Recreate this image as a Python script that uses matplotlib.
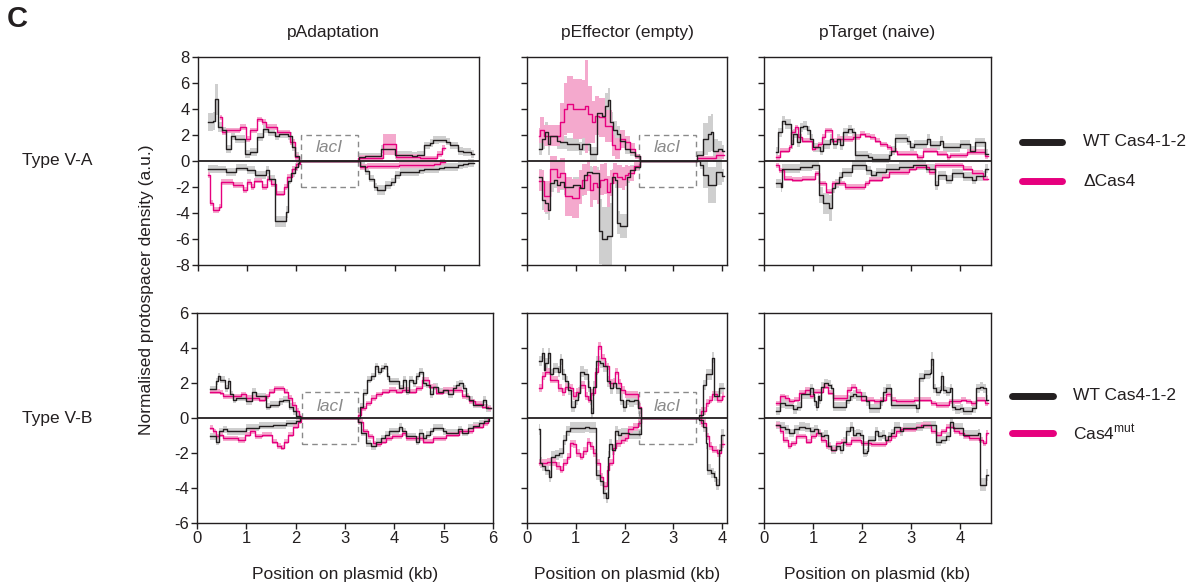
import matplotlib
matplotlib.use("Agg")
import matplotlib.pyplot as plt
from matplotlib.lines import Line2D
from matplotlib.patches import Rectangle
import numpy as np

plt.rcParams["font.family"] = ["Liberation Sans", "DejaVu Sans"]
plt.rcParams["mathtext.fontset"] = "custom"
plt.rcParams["mathtext.rm"] = "Liberation Sans"
plt.rcParams["axes.unicode_minus"] = False

# ---- data: (position kb, density[, band half-width]) step breakpoints ----
# Type V-A, pAdaptation
adapt_va_wt_pos = [(0.2, 3.0, 0.7), (0.3, 3.1, 0.7), (0.34, 4.75, 1.2), (0.41, 2.6, 0.4), (0.48, 2.35), (0.58, 0.95),
                   (0.68, 1.95), (0.75, 1.7), (0.95, 0.55), (1.06, 0.7), (1.2, 1.85), (1.33, 2.45), (1.43, 2.2),
                   (1.57, 1.95), (1.64, 2.05), (1.84, 1.9), (1.91, 1.05), (1.98, 0.4), (2.05, 0), (3.28, 0.3),
                   (3.4, 0.35), (3.72, 0.9), (4.0, 0.45), (4.2, 0.5), (4.35, 0.4), (4.45, 0.45), (4.61, 1.2),
                   (4.72, 1.4), (4.78, 1.6), (4.9, 1.65), (5.05, 1.5), (5.12, 1.2), (5.3, 0.8), (5.4, 0.7),
                   (5.55, 0.55), (5.62, 0.55)]
adapt_va_mut_pos = [(0.44, 3.35), (0.48, 2.2), (0.58, 2.35), (0.85, 2.6), (0.97, 1.7), (1.06, 2.35), (1.2, 3.2),
                    (1.3, 3.0), (1.38, 2.6), (1.6, 2.2), (1.88, 1.45), (1.98, 0.3), (2.06, 0), (3.26, 0.25),
                    (3.76, 1.3, 0.8), (4.04, 0.3), (4.52, 0.2), (4.86, 0.55), (4.96, 1.0), (5.02, 1.0)]
adapt_va_wt_neg = [(0.2, -0.6), (0.41, -0.65), (0.58, -0.85), (0.78, -0.5), (1.0, -0.7), (1.16, -1.1), (1.38, -0.7),
                   (1.45, -1.35), (1.56, -4.65, 0.45), (1.8, -3.9, 0.45), (1.84, -1.5), (1.9, -0.95), (1.97, -0.45),
                   (2.03, -0.15), (2.06, 0), (3.3, -0.35), (3.4, -0.8), (3.48, -1.35), (3.58, -2.0), (3.65, -2.25, 0.4),
                   (3.8, -1.85), (3.92, -1.6), (4.02, -1.1), (4.12, -0.85), (4.5, -0.7), (4.6, -0.6), (4.9, -0.5),
                   (5.0, -0.45), (5.3, -0.3), (5.4, -0.2), (5.5, -0.15), (5.62, -0.12)]
adapt_va_mut_neg = [(0.2, -1.1), (0.24, -3.25), (0.3, -3.75), (0.43, -3.5), (0.47, -1.6), (0.72, -1.85),
                    (0.92, -2.25), (1.0, -1.6), (1.08, -2.0), (1.15, -1.5), (1.3, -2.0), (1.4, -1.35), (1.48, -1.75),
                    (1.58, -2.5), (1.75, -2.0), (1.82, -1.2), (1.92, -0.6), (2.0, -0.25), (2.07, 0), (3.3, -0.45),
                    (3.45, -0.4), (4.1, -0.33), (4.8, -0.2), (4.92, -0.1), (5.02, -0.07)]

# Type V-A, pEffector (empty)
effector_va_wt_pos = [(0.24, 0.95, 0.5), (0.3, 1.7, 0.8), (0.37, 2.2, 0.8), (0.44, 1.3, 0.8), (0.48, 1.95, 0.7),
                      (0.61, 1.55, 0.6), (0.68, 1.45, 0.5), (0.82, 1.3, 0.5), (1.06, 0.95, 0.5), (1.12, 1.3, 0.5),
                      (1.3, 0.55, 0.5), (1.43, 3.7, 1.0), (1.53, 3.45, 1.0), (1.6, 4.2, 1.0), (1.67, 4.7, 0.9),
                      (1.7, 3.0, 0.8), (1.77, 2.35, 0.7), (1.84, 2.1, 0.6), (1.91, 1.55, 0.5), (2.01, 0.95, 0.4),
                      (2.11, 0.7, 0.3), (2.22, 0.35, 0.2), (2.32, 0, 0), (3.49, 0.45, 0.3), (3.61, 1.7, 1.2),
                      (3.71, 2.1, 1.4), (3.78, 2.2, 1.4), (3.82, 0.8, 0.9), (3.92, 0.95, 0.6), (3.99, 0.8, 0.4),
                      (4.04, 0.8, 0.4)]
effector_va_mut_pos = [(0.24, 1.95, 0.6), (0.27, 2.35, 1.0), (0.34, 1.95, 0.8), (0.68, 3.0, 1.5), (0.75, 4.0, 2.0),
                       (0.82, 4.35, 2.2), (0.95, 4.0, 2.3), (1.12, 4.0, 2.2), (1.19, 4.2, 3.6), (1.26, 3.6, 2.2),
                       (1.33, 3.0, 1.6), (1.4, 3.5, 1.5), (1.47, 3.35, 1.5), (1.6, 2.7, 1.2), (1.74, 1.2, 0.8),
                       (1.81, 0.95, 0.8), (1.91, 1.7, 0.7), (2.01, 1.45, 0.5), (2.11, 0.95, 0.4), (2.22, 0.35, 0.2),
                       (2.32, 0, 0), (3.49, 0.2, 0.2), (3.88, 0.45, 0.3), (4.04, 0.45, 0.3)]
effector_va_wt_neg = [(0.24, -1.2, 0.6), (0.3, -3.0, 0.8), (0.37, -3.25, 0.8), (0.44, -3.75, 0.8), (0.48, -1.7, 0.7),
                      (0.55, -1.45, 0.6), (0.61, -1.85, 0.6), (0.68, -1.6, 0.6), (0.75, -2.0, 0.6), (0.95, -1.85, 0.6),
                      (1.09, -2.1, 0.6), (1.16, -1.1, 0.5), (1.23, -0.85, 0.5), (1.33, -0.95, 0.5), (1.47, -5.4, 2.5),
                      (1.53, -6.0, 2.5), (1.64, -5.75, 2.5), (1.74, -1.2, 0.6), (1.81, -1.45, 0.6), (1.84, -4.75, 0.9),
                      (1.91, -5.0, 0.9), (2.05, -1.2, 0.5), (2.11, -0.7, 0.4), (2.22, -0.45, 0.3), (2.32, 0, 0),
                      (3.54, -0.33, 0.3), (3.61, -1.1, 1.0), (3.71, -1.85, 1.4), (3.88, -0.85, 1.0),
                      (3.99, -1.15, 0.5), (4.04, -1.15, 0.5)]
effector_va_mut_neg = [(0.24, -1.5, 0.8), (0.34, -2.7, 1.2), (0.48, -0.6, 1.0), (0.61, -1.2, 1.2), (0.68, -0.95, 1.2),
                       (0.78, -2.7, 1.5), (0.92, -2.85, 1.5), (1.06, -2.0, 1.3), (1.12, -1.45, 1.2), (1.23, -1.1, 1.2),
                       (1.3, -2.2, 1.3), (1.36, -1.7, 1.3), (1.43, -2.0, 1.3), (1.5, -1.45, 1.2), (1.57, -1.35, 1.2),
                       (1.64, -2.35, 1.2), (1.7, -1.7, 1.0), (1.77, -0.95, 0.8), (1.84, -1.2, 0.9), (1.94, -1.35, 0.9),
                       (2.01, -1.1, 0.8), (2.08, -0.95, 0.6), (2.2, -0.4, 0.3), (2.32, 0, 0)]

# Type V-A, pTarget (naive)
target_va_wt_pos = [(0.24, 0.7), (0.29, 2.2), (0.36, 3.1), (0.43, 2.85), (0.56, 1.3), (0.6, 2.1), (0.67, 1.45),
                    (0.73, 2.6), (0.8, 2.7), (0.87, 2.35), (0.94, 1.7), (1.0, 1.05), (1.14, 0.8), (1.21, 1.3),
                    (1.35, 1.7), (1.41, 1.3), (1.48, 1.7), (1.55, 1.2), (1.62, 2.2), (1.72, 2.45), (1.79, 2.2),
                    (1.86, 0.45), (2.13, 0.3), (2.2, 0.18), (2.54, 0.45), (2.6, 0.8), (2.68, 1.75), (2.91, 1.55),
                    (2.98, 1.05), (3.05, 1.3), (3.32, 1.7), (3.39, 1.2), (3.59, 1.55), (3.66, 1.05), (4.0, 1.3),
                    (4.2, 0.8), (4.3, 1.45), (4.5, 0.55), (4.56, 0.55)]
target_va_mut_pos = [(0.24, 0.3), (0.33, 0.8), (0.5, 1.05), (0.56, 2.2), (0.63, 2.6), (0.7, 1.85), (0.77, 1.55),
                     (0.97, 0.95), (1.04, 1.05), (1.11, 1.3), (1.18, 1.85), (1.24, 2.35), (1.38, 1.55), (1.48, 1.7),
                     (1.82, 1.85), (1.96, 2.1), (2.06, 1.95), (2.16, 1.85), (2.27, 1.55), (2.37, 1.3), (2.5, 1.05),
                     (2.6, 0.8), (2.71, 0.55), (3.12, 0.3), (3.25, 0.8), (3.52, 0.55), (3.73, 0.3), (3.8, 0.45),
                     (4.14, 0.7), (4.5, 0.35), (4.56, 0.35)]
target_va_wt_neg = [(0.24, -1.7), (0.34, -2.0), (0.36, -0.6), (0.73, -0.45), (0.97, -0.33), (1.12, -2.6, 0.6),
                    (1.21, -3.25, 0.8), (1.33, -3.6, 1.0), (1.38, -2.1), (1.45, -1.7), (1.52, -1.2), (1.6, -0.85),
                    (1.8, -0.33), (2.08, -0.7), (2.18, -1.1), (2.28, -0.85), (2.48, -0.6), (2.76, -0.45),
                    (3.03, -0.33), (3.3, -0.6), (3.48, -1.85), (3.55, -1.1), (3.72, -1.45), (3.84, -0.95),
                    (4.05, -1.2), (4.25, -1.45), (4.32, -1.15), (4.5, -0.6), (4.56, -0.6)]
target_va_mut_neg = [(0.24, -0.33), (0.3, -0.7), (0.4, -1.35), (0.58, -1.45), (0.78, -1.35), (1.04, -0.95),
                     (1.12, -1.7), (1.26, -2.35), (1.38, -1.7), (1.66, -2.0), (2.06, -1.7), (2.14, -1.45),
                     (2.4, -1.2), (2.55, -0.85), (2.95, -0.6), (3.1, -0.45), (3.36, -0.85), (3.48, -0.33),
                     (4.05, -0.6), (4.25, -0.9), (4.46, -1.35), (4.56, -1.35)]

# Type V-B, pAdaptation
adapt_vb_wt_pos = [(0.26, 1.65), (0.39, 2.1), (0.42, 2.4), (0.46, 2.2), (0.56, 1.7), (0.63, 2.1), (0.66, 1.35),
                   (0.73, 1.05), (0.8, 1.15), (1.0, 0.95), (1.12, 1.5), (1.2, 1.25), (1.4, 0.65), (1.48, 0.75),
                   (1.66, 0.95), (1.75, 1.05), (1.86, 0.65), (1.94, 0.4), (2.01, 0.13), (2.08, 0), (3.3, 0.65),
                   (3.37, 1.45), (3.44, 2.2), (3.52, 2.4), (3.6, 2.95), (3.66, 2.65), (3.72, 2.85), (3.8, 2.95),
                   (3.85, 2.4), (3.9, 2.1), (4.1, 1.7), (4.17, 2.2), (4.24, 1.5), (4.3, 2.2), (4.38, 2.0),
                   (4.44, 2.4), (4.5, 2.65), (4.58, 2.0), (4.64, 1.9), (4.72, 1.35), (4.78, 1.8), (4.88, 1.5),
                   (4.98, 1.6), (5.08, 1.35), (5.18, 1.7), (5.26, 1.9), (5.32, 2.0), (5.4, 1.7), (5.46, 1.25),
                   (5.52, 1.05), (5.6, 0.75), (5.8, 1.05), (5.86, 0.55), (5.95, 0.55)]
adapt_vb_mut_pos = [(0.26, 1.5), (0.46, 1.45), (0.53, 1.25), (0.9, 1.35), (1.0, 1.15), (1.26, 1.05), (1.38, 1.25),
                    (1.46, 1.5), (1.56, 1.7), (1.76, 1.5), (1.84, 1.15), (1.92, 0.75), (2.0, 0.4), (2.06, 0.1),
                    (2.1, 0), (3.27, 0.2), (3.32, 0.55), (3.42, 0.85), (3.52, 1.15), (3.62, 1.35), (3.76, 1.5),
                    (3.9, 1.6), (4.04, 1.5), (4.16, 1.6), (4.3, 1.5), (4.44, 1.7), (4.56, 2.2), (4.7, 1.8),
                    (4.84, 1.45), (4.98, 1.6), (5.38, 1.25), (5.52, 0.95), (5.64, 0.8), (5.78, 0.65), (5.9, 0.55),
                    (5.95, 0.55)]
adapt_vb_wt_neg = [(0.26, -1.05), (0.38, -1.35), (0.44, -0.75), (0.52, -0.65), (0.6, -0.75), (1.0, -0.55),
                   (1.26, -0.45), (1.54, -0.4), (1.8, -0.3), (2.0, -0.15), (2.08, 0), (3.27, -0.2), (3.33, -0.85),
                   (3.42, -1.45), (3.52, -1.6), (3.62, -1.35), (3.72, -1.15), (3.82, -0.95), (3.9, -0.75),
                   (4.1, -0.5), (4.16, -0.75), (4.24, -1.05), (4.44, -1.35), (4.5, -0.85), (4.58, -1.15),
                   (4.64, -0.95), (4.72, -0.75), (4.78, -0.55), (4.98, -0.75), (5.05, -0.85), (5.3, -0.65),
                   (5.38, -0.85), (5.5, -0.55), (5.6, -0.45), (5.72, -0.3), (5.82, -0.15), (5.92, -0.02)]
adapt_vb_mut_neg = [(0.26, -0.55), (0.32, -0.75), (0.38, -1.05), (0.45, -0.95), (0.52, -1.15), (0.84, -1.25),
                    (0.98, -0.95), (1.08, -0.75), (1.18, -1.05), (1.32, -0.95), (1.52, -1.35), (1.62, -1.6),
                    (1.7, -1.7), (1.76, -1.35), (1.84, -0.95), (1.94, -0.5), (2.04, -0.2), (2.1, 0), (3.27, -0.2),
                    (3.36, -0.75), (3.46, -1.05), (3.56, -1.45), (3.62, -1.5), (3.72, -1.35), (3.84, -1.15),
                    (3.96, -1.05), (4.16, -0.85), (4.24, -1.15), (4.58, -1.35), (4.78, -1.15), (5.04, -0.95),
                    (5.32, -0.75), (5.6, -0.5), (5.8, -0.3), (5.9, -0.05)]

# Type V-B, pEffector (empty)
effector_vb_wt_pos = [(0.24, 3.25), (0.3, 3.7), (0.34, 2.75), (0.37, 3.15), (0.43, 3.7), (0.47, 2.5), (0.54, 2.85),
                      (0.64, 2.65), (0.67, 3.35), (0.71, 2.5), (0.77, 2.1), (0.84, 1.6), (0.91, 0.65), (0.98, 1.05),
                      (1.04, 1.45), (1.08, 2.65), (1.16, 2.5), (1.25, 1.8), (1.29, 1.05), (1.32, 0.3), (1.35, 1.8),
                      (1.42, 3.25), (1.5, 3.15), (1.56, 2.95), (1.63, 2.1), (1.7, 1.7), (1.76, 2.0), (1.83, 1.7),
                      (1.9, 1.05), (1.97, 0.65), (2.03, 1.05), (2.1, 0.95), (2.2, 1.05), (2.27, 0.55), (2.34, 0),
                      (3.53, 0.2), (3.6, 1.9), (3.67, 2.5), (3.8, 3.45), (3.84, 1.25), (3.94, 1.7), (4.04, 1.7)]
effector_vb_mut_pos = [(0.24, 1.7), (0.3, 2.4), (0.36, 2.65), (0.47, 2.2), (0.64, 1.7), (0.71, 1.5), (0.77, 1.8),
                       (0.88, 1.7), (0.94, 1.25), (1.01, 1.5), (1.08, 1.9), (1.18, 1.25), (1.25, 1.05), (1.32, 1.45),
                       (1.39, 2.65), (1.45, 4.1), (1.52, 3.45), (1.59, 2.95), (1.69, 2.0), (1.8, 2.65), (1.87, 2.0),
                       (1.93, 1.6), (2.0, 1.35), (2.27, 0.65), (2.34, 0), (3.56, 0.4), (3.66, 0.85), (3.74, 1.05),
                       (3.8, 1.35), (3.9, 1.05), (4.0, 1.25), (4.04, 1.25)]
effector_vb_wt_neg = [(0.24, -0.65), (0.26, -2.55), (0.3, -2.75), (0.36, -2.95), (0.46, -3.35), (0.5, -2.2),
                      (0.57, -2.1), (0.66, -2.0), (0.74, -1.25), (0.8, -0.75), (0.88, -0.55), (1.18, -0.5),
                      (1.28, -0.55), (1.42, -3.25), (1.49, -3.6), (1.55, -4.3), (1.62, -4.55), (1.66, -2.2),
                      (1.69, -1.5), (1.75, -1.8), (1.8, -0.75), (1.87, -0.95), (1.93, -0.85), (2.1, -0.9), (2.34, 0),
                      (3.53, -0.1), (3.6, -0.5), (3.66, -1.45), (3.7, -2.95), (3.77, -3.15), (3.83, -3.35),
                      (3.87, -3.8), (3.94, -1.8), (3.98, -0.95), (4.04, -0.95)]
effector_vb_mut_neg = [(0.24, -2.55), (0.4, -2.5), (0.6, -2.75), (0.67, -2.95), (0.74, -2.55), (0.81, -2.2),
                       (0.88, -1.45), (0.95, -1.5), (1.01, -2.0), (1.08, -2.2), (1.15, -1.9), (1.22, -1.35),
                       (1.29, -1.6), (1.36, -2.0), (1.42, -2.55), (1.49, -3.35), (1.56, -3.9), (1.63, -2.95),
                       (1.69, -2.55), (1.76, -1.7), (1.83, -1.45), (1.93, -1.25), (2.0, -1.15), (2.07, -0.65),
                       (2.17, -0.5), (2.27, -0.3), (2.34, 0), (3.56, -0.3), (3.66, -1.05), (3.74, -1.6), (3.8, -1.8),
                       (3.9, -2.0), (3.98, -1.5), (4.04, -1.5)]

# Type V-B, pTarget (naive)
target_vb_wt_pos = [(0.24, 0.4), (0.33, 0.85), (0.42, 0.75), (0.6, 0.5), (0.68, 0.65), (0.76, 1.35), (0.93, 1.7),
                    (1.0, 1.35), (1.03, 0.95), (1.06, 0.65), (1.1, 1.25), (1.13, 1.05), (1.17, 1.8), (1.23, 2.0),
                    (1.3, 1.9), (1.37, 1.7), (1.41, 0.65), (1.68, 1.05), (1.75, 1.25), (1.81, 1.35), (1.88, 1.25),
                    (2.09, 0.95), (2.15, 0.55), (2.36, 0.95), (2.43, 1.5), (2.49, 1.7), (2.6, 0.75), (3.1, 0.55),
                    (3.17, 2.3), (3.27, 2.5), (3.38, 2.55), (3.41, 3.4, 0.4), (3.45, 1.7), (3.51, 1.5), (3.58, 1.6),
                    (3.62, 2.4), (3.65, 1.6), (3.72, 1.5), (3.79, 1.7), (3.83, 0.65), (3.89, 0.5), (3.99, 0.55),
                    (4.06, 0.4), (4.25, 0.55), (4.33, 1.7), (4.4, 1.8), (4.47, 1.7), (4.53, 1.05), (4.57, 1.05)]
target_vb_mut_pos = [(0.24, 0.85), (0.32, 1.25), (0.42, 1.15), (0.52, 0.95), (0.62, 1.05), (0.72, 1.45),
                     (0.83, 1.6), (0.93, 1.25), (1.0, 1.5), (1.2, 1.8), (1.3, 1.45), (1.4, 1.15), (1.7, 1.6),
                     (1.78, 1.8), (1.88, 1.5), (1.98, 1.05), (2.25, 0.95), (2.36, 1.05), (2.48, 1.35), (2.6, 1.05),
                     (2.7, 0.95), (3.06, 1.05), (3.4, 0.85), (3.5, 0.75), (3.78, 0.95), (4.02, 1.05), (4.12, 0.95),
                     (4.22, 0.85), (4.32, 1.05), (4.5, 0.85), (4.57, 0.85)]
target_vb_wt_neg = [(0.24, -0.4), (0.33, -0.5), (0.42, -0.65), (0.52, -0.85), (0.62, -0.65), (0.72, -0.5),
                    (0.83, -0.55), (0.93, -0.75), (1.03, -0.65), (1.1, -0.85), (1.17, -1.05), (1.23, -0.95),
                    (1.3, -1.6), (1.37, -1.8), (1.47, -1.6), (1.54, -1.8), (1.61, -1.35), (1.68, -0.75),
                    (1.75, -0.5), (1.81, -0.95), (1.88, -0.85), (1.95, -0.95), (2.02, -2.0), (2.1, -1.9),
                    (2.12, -1.25), (2.26, -0.75), (2.32, -1.05), (2.4, -0.95), (2.46, -1.25), (2.53, -1.05),
                    (2.6, -0.85), (2.66, -0.5), (2.77, -0.75), (2.83, -0.55), (3.1, -0.5), (3.24, -0.4),
                    (3.51, -1.35), (3.61, -1.25), (3.72, -1.05), (3.79, -0.2), (3.85, -0.55), (4.06, -0.95),
                    (4.36, -0.85), (4.4, -3.8, 0.35), (4.53, -3.25, 0.35), (4.57, -3.25, 0.35)]
target_vb_mut_neg = [(0.24, -0.4), (0.32, -0.75), (0.38, -1.25), (0.48, -1.6), (0.55, -1.45), (0.66, -1.05),
                     (0.86, -1.35), (0.96, -1.05), (1.06, -0.85), (1.17, -1.25), (1.27, -1.6), (1.37, -1.8),
                     (1.47, -1.45), (1.58, -1.35), (1.68, -1.5), (1.78, -1.25), (1.98, -1.45), (2.18, -1.5),
                     (2.48, -1.25), (2.6, -1.05), (2.7, -0.75), (2.8, -0.65), (3.1, -0.5), (3.2, -0.4),
                     (3.4, -0.75), (3.5, -0.95), (3.6, -0.75), (3.72, -0.5), (3.88, -0.75), (3.98, -0.85),
                     (4.08, -1.05), (4.18, -1.15), (4.38, -1.25), (4.46, -1.45), (4.53, -0.85), (4.57, -0.85)]

plasmids = ["pAdaptation", "pEffector (empty)", "pTarget (naive)"]
row_names = ["Type V-A", "Type V-B"]
legend_va = ["WT Cas4-1-2", "\u0394Cas4"]
legend_vb = ["WT Cas4-1-2", "Cas4$^{\\rm mut}$"]
lacI_va = [(2.1, 3.25), (2.3, 3.47), None]
lacI_vb = [(2.12, 3.27), (2.3, 3.47), None]

BLACK = "#231f20"
PINK = "#e6007e"
GRAY_BAND = "#cfcfcf"
PINK_BAND = "#f4a9cd"
W, H = 1194, 588

fig = plt.figure(figsize=(W / 100, H / 100), dpi=100)


def add_panel(left, top, right, bottom):
    return fig.add_axes([left / W, 1 - bottom / H, (right - left) / W, (bottom - top) / H])


def draw_trace(ax, pts, band_color, band):
    x = np.array([p[0] for p in pts])
    y = np.array([p[1] for p in pts])
    w = np.array([p[2] if len(p) == 3 else band for p in pts])
    w = np.where(y == 0, 0, w)
    ax.fill_between(x, y - w, y + w, step="post", color=band_color, lw=0, zorder=1)
    return x, y


def panel(ax, traces, bands, xmax, ylim, yticks, lacI, lacI_h, label_y, xticks, show_x, show_y):
    lines = []
    for (pts, is_wt) in traces:
        band = bands[0] if is_wt else bands[1]
        color = BLACK if is_wt else PINK
        band_color = GRAY_BAND if is_wt else PINK_BAND
        x, y = draw_trace(ax, pts, band_color, band)
        lines.append((x, y, color, 4 if is_wt else 3))
    for x, y, color, z in lines:
        ax.step(x, y, where="post", color=color, lw=1.0, zorder=z)
    ax.axhline(0, color=BLACK, lw=1.3, zorder=5)
    if lacI is not None:
        ax.add_patch(Rectangle((lacI[0], -lacI_h), lacI[1] - lacI[0], 2 * lacI_h, fill=False,
                               ls=(0, (4, 3)), ec="#8a8a8a", lw=1.0, zorder=2))
        ax.text((lacI[0] + lacI[1]) / 2, label_y, "lacI", style="italic", color="#8a8a8a",
                ha="center", va="center", fontsize=12.5)
    ax.set_xlim(0, xmax)
    ax.set_ylim(*ylim)
    ax.set_yticks(yticks)
    ax.set_xticks(xticks)
    ax.tick_params(direction="out", length=4, width=1, labelsize=12, colors=BLACK, pad=2)
    if not show_x:
        ax.set_xticklabels([])
    if not show_y:
        ax.set_yticklabels([])
    for s in ax.spines.values():
        s.set_linewidth(1.0)
        s.set_color(BLACK)


# column geometry (pixel positions on the page)
cols_top = [(198, 479, 5.72), (527, 727, 4.1), (764, 991, 4.63)]
cols_bot = [(197, 493, 6.0), (527, 727, 4.1), (764, 991, 4.63)]
xticks_cols = [range(0, 7), range(0, 5), range(0, 5)]

va_sets = [
    [(adapt_va_wt_pos, True), (adapt_va_mut_pos, False), (adapt_va_wt_neg, True), (adapt_va_mut_neg, False)],
    [(effector_va_wt_pos, True), (effector_va_mut_pos, False), (effector_va_wt_neg, True), (effector_va_mut_neg, False)],
    [(target_va_wt_pos, True), (target_va_mut_pos, False), (target_va_wt_neg, True), (target_va_mut_neg, False)],
]
vb_sets = [
    [(adapt_vb_wt_pos, True), (adapt_vb_mut_pos, False), (adapt_vb_wt_neg, True), (adapt_vb_mut_neg, False)],
    [(effector_vb_wt_pos, True), (effector_vb_mut_pos, False), (effector_vb_wt_neg, True), (effector_vb_mut_neg, False)],
    [(target_vb_wt_pos, True), (target_vb_mut_pos, False), (target_vb_wt_neg, True), (target_vb_mut_neg, False)],
]
va_bands = [(0.3, 0.22), (0.6, 1.0), (0.35, 0.2)]
vb_bands = [(0.2, 0.15), (0.3, 0.22), (0.25, 0.15)]

for i in range(3):
    l, r, xm = cols_top[i]
    ax = add_panel(l, 57, r, 265)
    panel(ax, va_sets[i], va_bands[i], xm, (-8, 8), range(-8, 9, 2), lacI_va[i], 2.0, 1.0,
          [t for t in xticks_cols[i] if t <= xm], False, i == 0)
    l, r, xm = cols_bot[i]
    ax = add_panel(l, 313, r, 523)
    panel(ax, vb_sets[i], vb_bands[i], xm, (-6, 6), range(-6, 7, 2), lacI_vb[i], 1.5, 0.65,
          [t for t in xticks_cols[i] if t <= xm], True, i == 0)
    fig.text(((l + r) / 2) / W, 1 - 574 / H, "Position on plasmid (kb)", ha="center", va="center",
             fontsize=12.5, color=BLACK)

title_x = [333, 627, 877]
for name, tx in zip(plasmids, title_x):
    fig.text(tx / W, 1 - 33 / H, name, ha="center", va="center", fontsize=12.5, color=BLACK)

fig.text(22 / W, 1 - 161 / H, row_names[0], ha="left", va="center", fontsize=12.5, color=BLACK)
fig.text(22 / W, 1 - 418 / H, row_names[1], ha="left", va="center", fontsize=12.5, color=BLACK)
fig.text(147 / W, 1 - 290 / H, "Normalised protospacer density (a.u.)", rotation=90, ha="center",
         va="center", fontsize=12.5, color=BLACK)
fig.text(7 / W, 1 - 19 / H, "C", ha="left", va="center", fontsize=21, fontweight="bold", color=BLACK)

# legends
for labels, (x0, x1, tx), ys in [(legend_va, (1022, 1062, 1083), (142, 181)),
                                  (legend_vb, (1012, 1053, 1073), (396, 433))]:
    for lab, col, yy in zip(labels, [BLACK, PINK], ys):
        fig.add_artist(Line2D([x0 / W, x1 / W], [1 - yy / H, 1 - yy / H], color=col, lw=5,
                              solid_capstyle="round", transform=fig.transFigure))
        fig.text(tx / W, 1 - yy / H, lab, ha="left", va="center", fontsize=12.5, color=BLACK)

fig.savefig("out.png", dpi=100)
